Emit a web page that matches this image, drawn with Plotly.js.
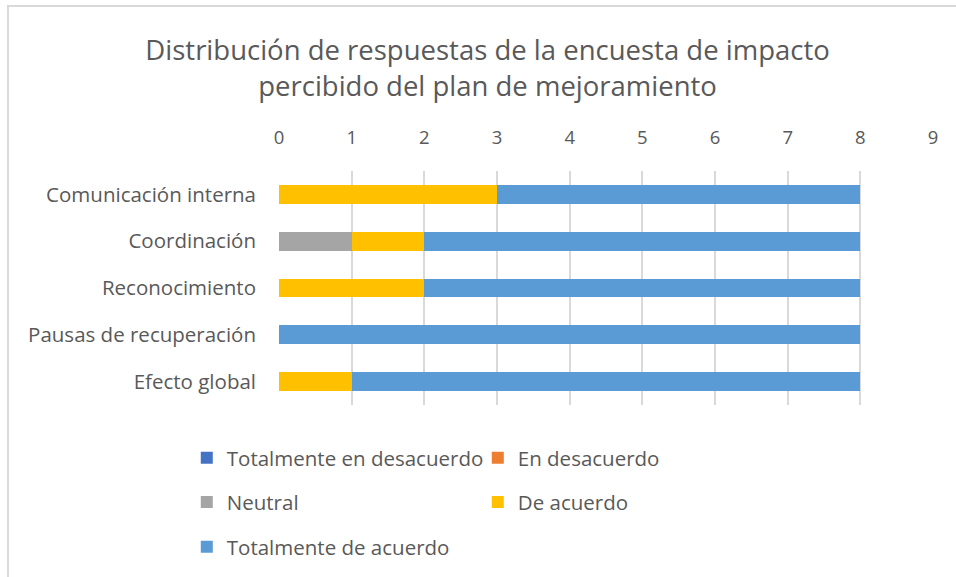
<!DOCTYPE html>
<html>
<head>
<meta charset="utf-8">
<script src="https://cdn.plot.ly/plotly-3.0.1.min.js"></script>
<style>
  html, body { margin: 0; padding: 0; background: #ffffff; }
  #frame { position: absolute; left: 7px; top: 5px; width: 960px; height: 580px;
           border-left: 2px solid #d9d9d9; border-top: 2px solid #d9d9d9; }
  #chart { position: absolute; left: 0; top: 0; width: 956px; height: 577px; }
</style>
</head>
<body>
<div id="frame"></div>
<div id="chart"></div>
<script>
const categories = ["Comunicación interna", "Coordinación", "Reconocimiento", "Pausas de recuperación", "Efecto global"];
const seriesNames = ["Totalmente en desacuerdo", "En desacuerdo", "Neutral", "De acuerdo", "Totalmente de acuerdo"];
const totalmenteEnDesacuerdo = [0, 0, 0, 0, 0];
const enDesacuerdo = [0, 0, 0, 0, 0];
const neutral = [0, 1, 0, 0, 0];
const deAcuerdo = [3, 1, 2, 0, 1];
const totalmenteDeAcuerdo = [5, 6, 6, 8, 7];
const xTicks = [0, 1, 2, 3, 4, 5, 6, 7, 8, 9];

const colors = ["#4472C4", "#ED7D31", "#A5A5A5", "#FFC000", "#5B9BD5"];
const values = [totalmenteEnDesacuerdo, enDesacuerdo, neutral, deAcuerdo, totalmenteDeAcuerdo];
const legendIds = ["legend", "legend", "legend2", "legend2", "legend3"];

const data = seriesNames.map((name, i) => ({
  type: "bar",
  orientation: "h",
  name: name,
  x: values[i],
  y: categories,
  marker: { color: colors[i], line: { width: 0 } },
  legend: legendIds[i],
  hoverinfo: "x+y+name"
}));

const textColor = "#595959";
const fam = "'Open Sans', Lato, sans-serif";
const font = { family: fam, color: textColor };

function legendAt(y) {
  return {
    orientation: "h",
    x: -0.141, xanchor: "left",
    y: y, yanchor: "middle",
    entrywidth: 246, entrywidthmode: "pixels",
    font: { family: fam, size: 20.5, color: textColor },
    bgcolor: "rgba(0,0,0,0)",
    traceorder: "normal",
    itemclick: false, itemdoubleclick: false
  };
}

const layout = {
  width: 956,
  height: 577,
  margin: { l: 279, r: 23, t: 171, b: 171, pad: 0 },
  paper_bgcolor: "rgba(0,0,0,0)",
  plot_bgcolor: "rgba(0,0,0,0)",
  font: font,
  barmode: "stack",
  bargap: 0.6,
  title: {
    text: "Distribución de respuestas de la encuesta de impacto<br>percibido del plan de mejoramiento",
    font: { family: fam, size: 27.5, color: textColor },
    x: 0.51, xanchor: "center", xref: "container",
    y: 1 - 60 / 577, yanchor: "middle", yref: "container"
  },
  xaxis: {
    side: "top",
    range: [0, 9],
    tickvals: xTicks,
    ticktext: xTicks.map(String),
    showgrid: true,
    gridcolor: "#d9d9d9",
    gridwidth: 1.5,
    zeroline: false,
    showline: false,
    ticks: "",
    ticklabelstandoff: 22,
    tickfont: { family: fam, size: 18.5, color: textColor },
    fixedrange: true
  },
  yaxis: {
    type: "category",
    autorange: "reversed",
    showgrid: false,
    zeroline: false,
    showline: false,
    ticks: "",
    ticklabelstandoff: 22,
    tickfont: { family: fam, size: 20.5, color: textColor },
    fixedrange: true
  },
  legend: legendAt(-0.221),
  legend2: legendAt(-0.409),
  legend3: legendAt(-0.6),
  showlegend: true
};

Plotly.newPlot("chart", data, layout, { displayModeBar: false });
</script>
</body>
</html>
